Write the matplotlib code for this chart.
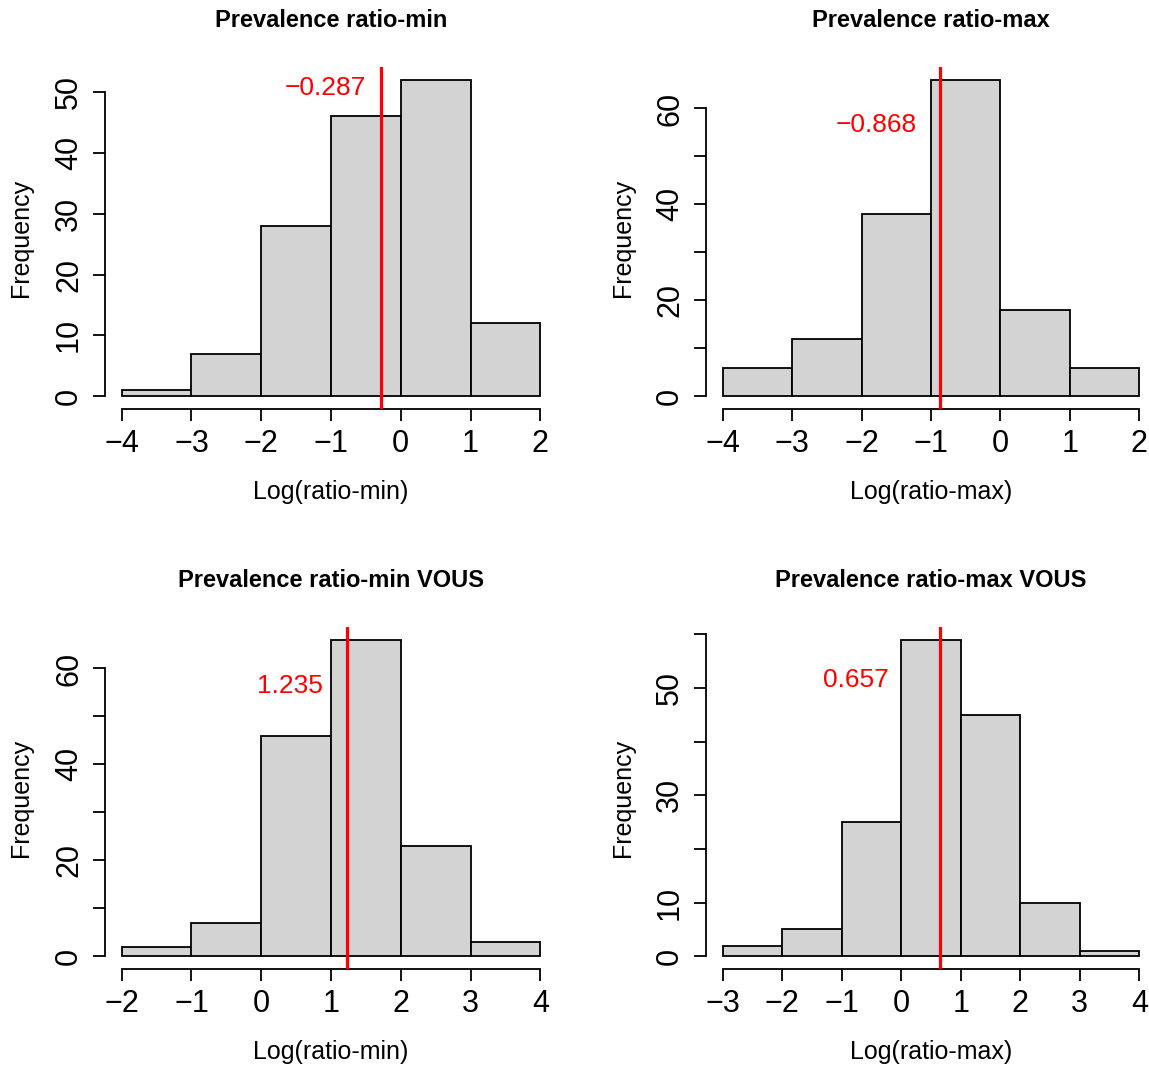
import matplotlib
matplotlib.use("Agg")
import matplotlib.pyplot as plt
import numpy as np
from matplotlib.transforms import blended_transform_factory

plt.rcParams['font.family'] = ['Liberation Sans', 'DejaVu Sans']

# ---------------- data ----------------
titles = ["Prevalence ratio-min", "Prevalence ratio-max",
          "Prevalence ratio-min VOUS", "Prevalence ratio-max VOUS"]
xlabels = ["Log(ratio-min)", "Log(ratio-max)", "Log(ratio-min)", "Log(ratio-max)"]

edges_min = [-4, -3, -2, -1, 0, 1, 2]
counts_min = [1, 7, 28, 46, 52, 12]

edges_max = [-4, -3, -2, -1, 0, 1, 2]
counts_max = [6, 12, 38, 66, 18, 6]

edges_min_vous = [-2, -1, 0, 1, 2, 3, 4]
counts_min_vous = [2, 7, 46, 66, 23, 3]

edges_max_vous = [-3, -2, -1, 0, 1, 2, 3, 4]
counts_max_vous = [2, 5, 25, 59, 45, 10, 1]

means = [-0.287, -0.868, 1.235, 0.657]
mean_labels = ["\u22120.287", "\u22120.868", "1.235", "0.657"]

ytick_top = [50, 60, 60, 60]
ytick_labeled = [[0, 10, 20, 30, 40, 50], [0, 20, 40, 60], [0, 20, 40, 60], [0, 10, 30, 50]]

# ---------------- layout / style ----------------
W, H = 1149, 1065
fig = plt.figure(figsize=(W / 100, H / 100), dpi=100)

# plot regions in pixels: (left, top, right, bottom)
regions = [(105, 67, 557, 409), (706, 67, 1156, 409),
           (105, 627, 557, 969), (706, 627, 1156, 969)]
# label positions (x data for right edge, y axes fraction)
label_pos = [(-0.50, 0.938), (-1.20, 0.830), (0.885, 0.828), (-0.205, 0.846)]

all_edges = [edges_min, edges_max, edges_min_vous, edges_max_vous]
all_counts = [counts_min, counts_max, counts_min_vous, counts_max_vous]

lw = 1.3
for i in range(4):
    l, t, r, b = regions[i]
    ax = fig.add_axes([l / W, (H - b) / H, (r - l) / W, (b - t) / H])
    edges = np.array(all_edges[i], dtype=float)
    counts = np.array(all_counts[i], dtype=float)
    ax.bar(edges[:-1], counts, width=np.diff(edges), align='edge',
           color='#D3D3D3', edgecolor='black', linewidth=lw, zorder=2)
    xr = edges[-1] - edges[0]
    ax.set_xlim(edges[0] - 0.04 * xr, edges[-1] + 0.04 * xr)
    ymax = counts.max()
    ax.set_ylim(-0.04 * ymax, 1.04 * ymax)

    for s in ['top', 'right']:
        ax.spines[s].set_visible(False)
    ax.spines['left'].set_bounds(0, ytick_top[i])
    ax.spines['bottom'].set_bounds(edges[0], edges[-1])
    ax.spines['left'].set_linewidth(lw)
    ax.spines['bottom'].set_linewidth(lw)

    ax.set_xticks(edges)
    ax.set_xticklabels([f"{int(v)}" if v >= 0 else f"\u2212{int(-v)}" for v in edges])
    yt = list(range(0, ytick_top[i] + 1, 10))
    ax.set_yticks(yt)
    ax.set_yticklabels([str(v) if v in ytick_labeled[i] else "" for v in yt],
                       rotation=90, va='center')
    ax.tick_params(axis='both', direction='out', length=8.6, width=lw, labelsize=22)
    ax.tick_params(axis='x', pad=5.5)
    ax.tick_params(axis='y', pad=6.5)

    ax.axvline(means[i], color='#FF0000', linewidth=2.3, zorder=3)
    tr = blended_transform_factory(ax.transData, ax.transAxes)
    ax.text(label_pos[i][0], label_pos[i][1], mean_labels[i], transform=tr,
            ha='right', va='center', color='#FF0000', fontsize=19)

    ax.text(0.5, 1.135, titles[i], transform=ax.transAxes, ha='center',
            va='center', fontsize=17, fontweight='bold')
    ax.set_xlabel(xlabels[i], fontsize=18)
    ax.xaxis.set_label_coords(0.5, -0.243)
    ax.xaxis.label.set_va('center')
    ax.set_ylabel("Frequency", fontsize=18)
    ax.yaxis.set_label_coords(-0.185, 0.5)
    ax.yaxis.label.set_va('center')
    ax.patch.set_visible(False)

fig.savefig("out.png", dpi=100)
